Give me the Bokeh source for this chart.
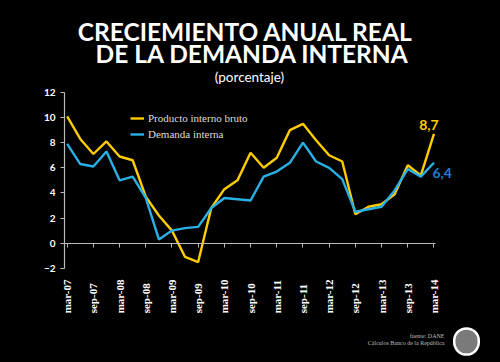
import math
from bokeh.plotting import figure
from bokeh.models import (Range1d, FixedTicker, LinearAxis, Label, Legend, LegendItem)
from bokeh.embed import file_html
from bokeh.resources import INLINE

# ---------------- data ----------------
quarters = list(range(29))  # mar-07 ... mar-14, quarterly
pib = [10.1, 8.3, 7.1, 8.1, 6.9, 6.6, 3.7, 2.2, 1.0, -1.1, -1.5, 2.8, 4.3, 5.0, 7.2,
       6.0, 6.8, 9.0, 9.5, 8.2, 7.0, 6.5, 2.3, 2.9, 3.1, 3.9, 6.2, 5.4, 8.7]
demanda = [7.9, 6.3, 6.1, 7.3, 5.0, 5.3, 3.6, 0.3, 1.0, 1.2, 1.3, 2.8, 3.6, 3.5, 3.4,
           5.3, 5.7, 6.4, 8.0, 6.5, 6.0, 5.1, 2.5, 2.7, 2.9, 4.2, 5.9, 5.3, 6.4]
tick_positions = list(range(0, 29, 2))
tick_labels = ["mar-07", "sep-07", "mar-08", "sep-08", "mar-09", "sep-09", "mar-10",
               "sep-10", "mar-11", "sep-11", "mar-12", "sep-12", "mar-13", "sep-13", "mar-14"]
y_ticks = [-2, 0, 2, 4, 6, 8, 10, 12]

YELLOW = "#FFCC00"
BLUE = "#29B0E6"
BLUE_TXT = "#1E80CC"
AXIS = "#BBBBBB"

W, H = 500, 362
p = figure(width=W, height=H, output_backend="svg", toolbar_location=None,
           x_axis_location=None, y_axis_location=None,
           x_range=Range1d(-5.09, 33.08), y_range=Range1d(-9.50, 19.32),
           min_border=0)
p.background_fill_color = "black"
p.border_fill_color = "black"
p.outline_line_color = None
p.xgrid.visible = False
p.ygrid.visible = False

x0 = quarters[0] - 0.2
x1 = quarters[-1] + 0.15

# y axis
ya = LinearAxis(fixed_location=x0, ticker=FixedTicker(ticks=y_ticks),
                bounds=(y_ticks[0], y_ticks[-1]))
ya.axis_line_color = AXIS
ya.axis_line_width = 1.2
ya.major_tick_line_color = AXIS
ya.major_tick_out = 4
ya.major_tick_in = 0
ya.minor_tick_line_color = None
ya.major_label_standoff = 5
ya.major_label_text_color = "white"
ya.major_label_text_font = "Lato"
ya.major_label_text_font_style = "bold"
ya.major_label_text_font_size = "10px"
p.add_layout(ya, "left")

# zero line axis with ticks
za = LinearAxis(fixed_location=0, ticker=FixedTicker(ticks=tick_positions), bounds=(x0, x1))
za.axis_line_color = AXIS
za.axis_line_width = 1.2
za.major_tick_line_color = AXIS
za.major_tick_out = 4
za.major_tick_in = 0
za.minor_tick_line_color = None
za.major_label_text_font_size = "0px"
za.major_label_standoff = 0
p.add_layout(za, "below")

# date labels below the plotted area, reading upwards, start-aligned at the bottom
p.text(x=tick_positions, y=[y_ticks[0]] * len(tick_positions), text=tick_labels,
       angle=math.pi / 2, text_align="left", text_baseline="middle",
       y_offset=45, text_color="white", text_font={"value": "Liberation Serif"},
       text_font_style="bold", text_font_size="11px")

r_pib = p.line(quarters, pib, line_color=YELLOW, line_width=2.4)
r_dem = p.line(quarters, demanda, line_color=BLUE, line_width=2.4)

legend = Legend(items=[LegendItem(label="Producto interno bruto", renderers=[r_pib]),
                       LegendItem(label="Demanda interna", renderers=[r_dem])],
                location=(130, H - 140))
legend.background_fill_alpha = 0
legend.border_line_color = None
legend.padding = 0
legend.margin = 0
legend.spacing = 4
legend.glyph_width = 14
legend.glyph_height = 12
legend.label_height = 12
legend.label_standoff = 4
legend.label_text_color = "#DDDDDD"
legend.label_text_font = "Liberation Serif"
legend.label_text_font_size = "11px"
p.add_layout(legend, "center")

# end value labels
p.add_layout(Label(x=quarters[-1], y=pib[-1], text=f"{pib[-1]:.1f}".replace(".", ","),
                   x_offset=-5, y_offset=9, text_align="center", text_baseline="middle",
                   text_color=YELLOW, text_font="Lato", text_font_style="bold",
                   text_font_size="14px"))
p.add_layout(Label(x=quarters[-1], y=demanda[-1], text=f"{demanda[-1]:.1f}".replace(".", ","),
                   x_offset=-1.5, y_offset=-10, text_align="left", text_baseline="middle",
                   text_color=BLUE_TXT, text_font="Lato", text_font_style="bold",
                   text_font_size="14px"))

def screen_label(x, page_y, text, **kw):
    p.add_layout(Label(x=x, y=H - page_y, x_units="screen", y_units="screen", text=text,
                       text_baseline="middle", **kw))

# titles
screen_label(245, 30.5, "CRECIEMIENTO ANUAL REAL", text_align="center", text_color="white",
             text_font="Lato", text_font_style="bold", text_font_size="24.5px")
screen_label(252, 53, "DE LA DEMANDA INTERNA", text_align="center", text_color="white",
             text_font="Lato", text_font_style="bold", text_font_size="24.5px")
screen_label(249, 76, "(porcentaje)", text_align="center", text_color="white",
             text_font="Lato", text_font_size="13.5px")

# source
screen_label(444, 335.5, "fuente: DANE", text_align="right", text_color="#BBBBBB",
             text_font="Liberation Serif", text_font_size="6px")
screen_label(444, 342.5, "Cálculos Banco de la República", text_align="right",
             text_color="#BBBBBB", text_font="Liberation Serif", text_font_size="6px")

# emblem
p.add_layout(Label(x=466, y=H - 341, x_units="screen", y_units="screen", text="\u00a0",
                   text_align="center", text_baseline="middle", text_font_size="2px",
                   background_fill_color="#7A7A7A", border_line_color="white",
                   border_line_width=2.5, padding=12, border_radius=13))

html = file_html(p, INLINE)
html = html.replace("<body>", '<body style="background-color:#000000;">')
open("out.html", "w").write(html)
